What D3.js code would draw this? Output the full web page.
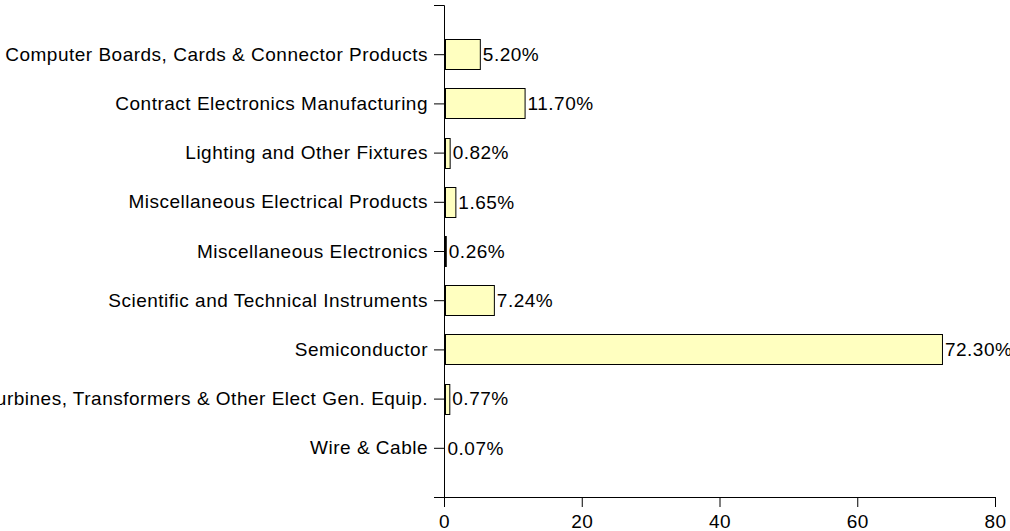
<!DOCTYPE html>
<html>
<head>
<meta charset="utf-8">
<script src="https://cdn.jsdelivr.net/npm/d3@7/dist/d3.min.js"></script>
<style>
  html, body { margin: 0; padding: 0; background: #ffffff; }
  svg { display: block; }
  text { font-family: "Liberation Sans", Arial, sans-serif; font-size: 19px; letter-spacing: 0.5px; fill: #000; }
</style>
</head>
<body>
<svg id="chart" width="1010" height="531"></svg>
<script>
const categories = [
  "Computer Boards, Cards & Connector Products",
  "Contract Electronics Manufacturing",
  "Lighting and Other Fixtures",
  "Miscellaneous Electrical Products",
  "Miscellaneous Electronics",
  "Scientific and Technical Instruments",
  "Semiconductor",
  "Turbines, Transformers & Other Elect Gen. Equip.",
  "Wire & Cable"
];
const values = [5.20, 11.70, 0.82, 1.65, 0.26, 7.24, 72.30, 0.77, 0.07];
const xTicks = [0, 20, 40, 60, 80];

const svg = d3.select("#chart");

const x = d3.scaleLinear().domain([0, 80]).range([444, 995]);
const y = d3.scalePoint().domain(categories).range([5, 497]).padding(1);

const barH = 30;

// bars
svg.append("g").selectAll("rect")
  .data(values)
  .join("rect")
  .attr("x", x(0) + 1.5)
  .attr("y", (d, i) => Math.round(y(categories[i]) - barH / 2) + 0.5)
  .attr("width", d => Math.max(0, x(d) - x(0) - 1))
  .attr("height", barH)
  .attr("fill", "#ffffc0")
  .attr("stroke", "#000")
  .attr("stroke-width", 1);

// value labels
svg.append("g").selectAll("text")
  .data(values)
  .join("text")
  .attr("x", d => x(d) + 3)
  .attr("y", (d, i) => y(categories[i]))
  .attr("dy", "0.36em")
  .text(d => d.toFixed(2) + "%");

// y axis
svg.append("g")
  .attr("transform", `translate(${x(0)},0)`)
  .call(d3.axisLeft(y).tickSize(10).tickSizeOuter(10).tickPadding(6));

// x axis
svg.append("g")
  .attr("transform", `translate(0,${497})`)
  .call(d3.axisBottom(x).tickValues(xTicks).tickFormat(d3.format("d")).tickSize(10).tickSizeOuter(10).tickPadding(8));

svg.selectAll(".domain, .tick line").attr("stroke", "#000");
svg.selectAll(".tick text")
  .style("font-family", "'Liberation Sans', Arial, sans-serif")
  .style("font-size", "19px")
  .style("letter-spacing", "0.5px")
  .attr("fill", "#000");
</script>
</body>
</html>
